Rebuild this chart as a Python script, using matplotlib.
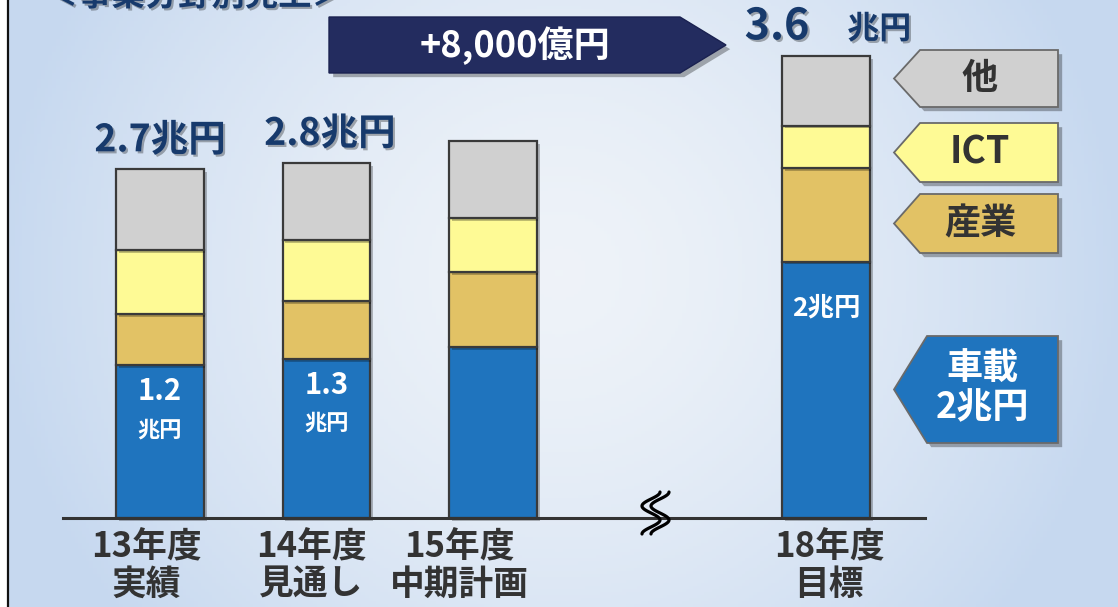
import numpy as np
import matplotlib
matplotlib.use("Agg")
import matplotlib.pyplot as plt
from matplotlib.patches import Polygon, Rectangle
import matplotlib.patheffects as pe

plt.rcParams['font.family'] = ['Noto Sans CJK JP', 'DejaVu Sans']

# ---------------- data ----------------
categories = ["13年度\n実績", "14年度\n見通し", "15年度\n中期計画", "18年度\n目標"]
vehicle = [1.19, 1.24, 1.33, 2.00]    # 車載
industry = [0.40, 0.45, 0.59, 0.73]   # 産業
ict = [0.50, 0.48, 0.42, 0.33]        # ICT
other = [0.63, 0.60, 0.60, 0.54]      # 他
total_labels = ["2.7兆円", "2.8兆円", "", "3.6"]
vehicle_labels = ["1.2", "1.3", "", "2"]
segment_names = ["車載", "産業", "ICT", "他"]
growth_label = "+8,000億円"
title = "＜事業分野別売上＞"

# ---------------- layout / style ----------------
W, H = 1118, 607
x_pos = [0, 1, 2, 4]
label_dx = [-0.08, -0.09, -0.20, 0.02]
bar_w = 0.526
C_BLUE = "#1f74be"
C_TAN = "#e2c265"
C_YEL = "#fefa95"
C_GRY = "#d0d0d0"
C_EDGE = "#3a3a3a"
C_NAVY = "#232c5f"
C_TXT_NAVY = "#173a6c"
C_DARK = "#333333"

fig = plt.figure(figsize=(W / 100, H / 100), dpi=100)


def P(x, y):
    return (x / W, 1 - y / H)


# background gradient
bg = fig.add_axes([0, 0, 1, 1], zorder=-10)
gx, gy = np.meshgrid(np.linspace(0, 1, 300), np.linspace(0, 1, 200))
d = np.sqrt(((gx - 0.5) / 0.5) ** 2 + ((gy - 0.45) / 0.9) ** 2)
d = np.clip(d, 0, 1) ** 1.5
center = np.array([0.935, 0.953, 0.975])
edge = np.array([0.78, 0.85, 0.94])
img = center[None, None, :] * (1 - d[..., None]) + edge[None, None, :] * d[..., None]
bg.imshow(img, aspect='auto', extent=[0, 1, 0, 1], origin='upper')
bg.set_xlim(0, 1)
bg.set_ylim(0, 1)
bg.axis('off')

# left border
fig.patches.append(Rectangle(P(0, H), 7 / W, 1, transform=fig.transFigure,
                             facecolor='white', edgecolor='none', zorder=-5))
fig.lines.append(plt.Line2D([7.5 / W, 7.5 / W], [0, 1], transform=fig.transFigure,
                            color='#111111', lw=1.6, zorder=-4))

# main axes (data coords: 1 unit = 166.5 px horizontally, 128.2 px per 兆円)
ax = fig.add_axes([0, 0, 1, 1])
ax.set_facecolor('none')
ax.set_xlim(-160 / 166.5, (W - 160) / 166.5)
ax.set_ylim(-(H - 518) / 128.2, 518 / 128.2)
ax.axis('off')

shadow = [pe.withSimplePatchShadow(offset=(2, -2), shadow_rgbFace='black', alpha=0.25)]

bottom = np.zeros(len(x_pos))
for vals, col in [(vehicle, C_BLUE), (industry, C_TAN), (ict, C_YEL), (other, C_GRY)]:
    bars = ax.bar(x_pos, vals, bar_w, bottom=bottom, color=col, edgecolor=C_EDGE,
                  linewidth=1.6, zorder=3)
    for b in bars:
        b.set_path_effects(shadow)
    bottom = bottom + np.array(vals)
totals = bottom

# baseline
ax.axhline(0, xmin=63 / W, xmax=925 / W, color=C_DARK, lw=2.2, zorder=4)

# break symbol
t = np.linspace(0, 1, 100)
for cx in (651, 660):
    xs = (cx + 9 * np.cos(3 * np.pi * t) - 160) / 166.5
    ys = (518 - (492 + 42 * t)) / 128.2
    ax.plot(xs, ys, color='black', lw=2.3, zorder=5, solid_capstyle='round')

txt_shadow = [pe.withSimplePatchShadow(offset=(1.5, -1.5), shadow_rgbFace='black', alpha=0.3)]

# totals above bars
for i, (xp, lab) in enumerate(zip(x_pos, total_labels)):
    if not lab:
        continue
    if i < 3:
        ax.text(xp + (0.0 if i == 0 else 0.02), totals[i] + 0.23, lab, ha='center',
                va='center', fontsize=27, fontweight='bold', color=C_TXT_NAVY,
                path_effects=txt_shadow, zorder=6)
    else:
        ax.text(xp - 0.295, totals[i] + 0.235, lab, ha='center', va='center', fontsize=31,
                fontweight='bold', color=C_TXT_NAVY, path_effects=txt_shadow, zorder=6)
        ax.text(xp + 0.32, totals[i] + 0.21, "兆円", ha='center', va='center', fontsize=23,
                fontweight='bold', color=C_TXT_NAVY, path_effects=txt_shadow, zorder=6)

# vehicle labels inside blue segments
for i, (xp, lab) in enumerate(zip(x_pos, vehicle_labels)):
    if not lab:
        continue
    if i < 3:
        ax.text(xp, vehicle[i] - 0.20, lab, ha='center', va='center', fontsize=21,
                fontweight='bold', color='white', zorder=6)
        ax.text(xp, vehicle[i] - 0.50, "兆円", ha='center', va='center', fontsize=16,
                fontweight='bold', color='white', zorder=6)
    else:
        ax.text(xp, vehicle[i] - 0.36, lab + "兆円", ha='center', va='center', fontsize=19,
                fontweight='bold', color='white', zorder=6)

# category labels
for xp, dx, cat in zip(x_pos, label_dx, categories):
    l1, l2 = cat.split("\n")
    ax.text(xp + dx, (518 - 547) / 128.2, l1, ha='center', va='center', fontsize=25,
            fontweight='bold', color=C_DARK, zorder=6)
    ax.text(xp + dx, (518 - 584) / 128.2, l2, ha='center', va='center', fontsize=25,
            fontweight='bold', color=C_DARK, zorder=6)

# growth arrow
poly_shadow = [pe.withSimplePatchShadow(offset=(3, -3), shadow_rgbFace='black', alpha=0.3)]
arrow = Polygon([P(329, 17), P(680, 17), P(726, 45), P(680, 73), P(329, 73)],
                closed=True, transform=fig.transFigure, facecolor=C_NAVY,
                edgecolor='#1a2150', lw=1, zorder=7, path_effects=poly_shadow)
fig.patches.append(arrow)
fig.text(*P(515, 46), growth_label, ha='center', va='center', fontsize=26,
         fontweight='bold', color='white', zorder=8)

# title (cropped at the top edge, as in the source slide)
fig.text(*P(195, -4), title, ha='center', va='center', fontsize=24, fontweight='bold',
         color=C_TXT_NAVY, zorder=8, path_effects=txt_shadow)

# right-hand legend tags
tags = [
    (segment_names[3], C_GRY, 50, 107, 920, C_DARK, 26),
    (segment_names[2], C_YEL, 123, 182, 920, C_DARK, 27),
    (segment_names[1], C_TAN, 194, 253, 920, C_DARK, 26),
    (None, C_BLUE, 336, 443, 927, 'white', 26),
]
for name, col, top, bot, bl, tcol, fs in tags:
    cy = (top + bot) / 2
    poly = Polygon([P(894, cy), P(bl, top), P(1058, top), P(1058, bot), P(bl, bot)],
                   closed=True, transform=fig.transFigure, facecolor=col,
                   edgecolor='#6a6a6a', lw=1.3, zorder=7, path_effects=poly_shadow)
    fig.patches.append(poly)
    if name is not None:
        fig.text(*P(980, cy), name, ha='center', va='center', fontsize=fs,
                 fontweight='bold', color=tcol, zorder=8)
    else:
        fig.text(*P(983, 369), segment_names[0], ha='center', va='center', fontsize=fs,
                 fontweight='bold', color=tcol, zorder=8)
        fig.text(*P(983, 408), "2兆円", ha='center', va='center', fontsize=fs,
                 fontweight='bold', color=tcol, zorder=8)

fig.savefig("out.png", dpi=100)
